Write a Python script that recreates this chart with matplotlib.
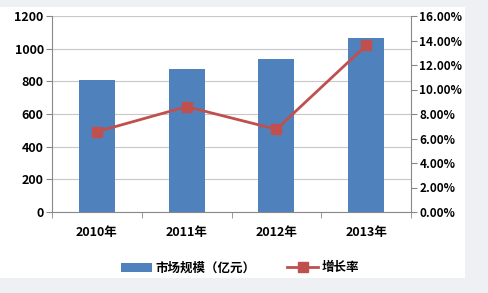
"""Market size bars with growth-rate line on a secondary axis."""

import matplotlib

matplotlib.use("Agg")
import matplotlib.pyplot as plt  # noqa: E402
import numpy as np  # noqa: E402
from matplotlib.patches import Rectangle  # noqa: E402
from matplotlib.ticker import FuncFormatter  # noqa: E402

plt.rcParams["font.family"] = ["Noto Sans CJK SC", "DejaVu Sans"]

years = ["2010年", "2011年", "2012年", "2013年"]
market_size = [808, 877, 937, 1067]
growth_rate = [6.55, 8.6, 6.75, 13.6]

BAR_COLOR = "#4f81bd"
LINE_COLOR = "#c0504d"
AXIS_GREY = "#888888"

figure = plt.figure(figsize=(4.88, 2.93), dpi=100)
figure.patch.set_facecolor("#eef0f4")
figure.patches.append(
    Rectangle((0, 0.052), 0.953, 0.925, transform=figure.transFigure,
              facecolor="white", edgecolor="none", zorder=-10)
)

axis = figure.add_axes([52 / 488, 1 - 212 / 293, 359 / 488, 196 / 293])
axis.set_facecolor("none")
x = np.arange(len(years))
axis.bar(x, market_size, width=0.4, color=BAR_COLOR, zorder=2,
         label="市场规模（亿元）")
axis.set_xlim(-0.5, len(years) - 0.5)
axis.set_ylim(0, 1200)
axis.set_yticks(range(0, 1201, 200))
axis.grid(axis="y", color="#c8c8c8", linewidth=0.8, zorder=0)
axis.set_axisbelow(True)
axis.set_xticks(x)
axis.set_xticklabels(years, fontsize=9, fontweight="bold")
axis.set_xticks(np.arange(-0.5, len(years)), minor=True)
axis.tick_params(axis="x", which="major", length=0, pad=10)
axis.tick_params(axis="x", which="minor", length=4, color=AXIS_GREY)
axis.tick_params(axis="y", length=4, color=AXIS_GREY, labelsize=9, pad=2)
for label in axis.get_yticklabels():
    label.set_fontweight("bold")
for side in ("top", "right"):
    axis.spines[side].set_visible(False)
for side in ("left", "bottom"):
    axis.spines[side].set_color(AXIS_GREY)

rate_axis = axis.twinx()
rate_axis.plot(x, growth_rate, color=LINE_COLOR, linewidth=2, marker="s",
               markersize=7, zorder=3, label="增长率")
rate_axis.set_ylim(0, 16)
rate_axis.set_yticks(range(0, 17, 2))
rate_axis.yaxis.set_major_formatter(FuncFormatter(lambda v, _: f"{v:.2f}%"))
rate_axis.tick_params(axis="y", length=4, color=AXIS_GREY, labelsize=8.5, pad=2)
for label in rate_axis.get_yticklabels():
    label.set_fontweight("bold")
for side in ("top", "left", "bottom"):
    rate_axis.spines[side].set_visible(False)
rate_axis.spines["right"].set_color(AXIS_GREY)

handles = axis.get_legend_handles_labels()[0] + rate_axis.get_legend_handles_labels()[0]
labels = axis.get_legend_handles_labels()[1] + rate_axis.get_legend_handles_labels()[1]
figure.legend(handles, labels, loc="center", bbox_to_anchor=(240 / 488, 1 - 268 / 293),
              ncol=2, frameon=False, prop={"size": 9, "weight": "bold"},
              handlelength=2.5, columnspacing=2.5, handletextpad=0.3)

figure.savefig("out.png", dpi=100)
plt.close(figure)
